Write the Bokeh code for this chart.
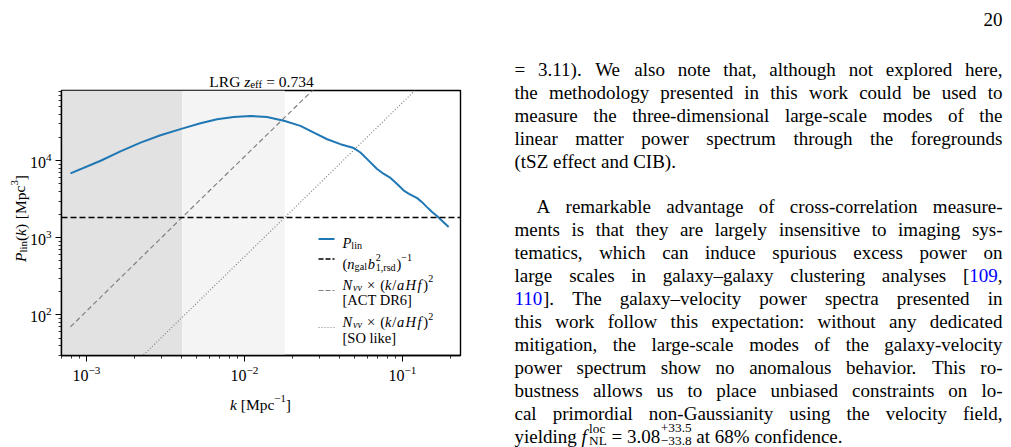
import os, glob, struct, math
from bokeh.plotting import figure
from bokeh.models import (Range1d, BoxAnnotation, Span, Arrow, ColumnDataSource, GridBox)
from bokeh.core.properties import value
from bokeh.embed import file_html
from bokeh.resources import INLINE

# ---------------- data ----------------
k_lin = [7.92e-4, 1.23e-3, 1.64e-3, 2.20e-3, 2.94e-3, 4.03e-3, 5.27e-3, 6.71e-3,
         8.55e-3, 1.09e-2, 1.39e-2, 1.80e-2, 2.26e-2, 2.75e-2, 3.34e-2, 4.05e-2,
         4.92e-2, 5.42e-2, 5.98e-2, 6.91e-2, 7.62e-2, 8.40e-2, 9.25e-2, 0.102,
         0.110, 0.124, 0.133, 0.143, 0.154, 0.166, 0.196]
p_lin = [6860, 10000, 13200, 17200, 21400, 26100, 30600, 34500,
         37000, 38100, 37000, 32800, 28300, 23200, 19000, 16400,
         14600, 12800, 10500, 7810, 6730, 5980, 5000, 4100,
         3720, 3270, 2900, 2500, 2160, 1900, 1380]
shot_noise_level = 1840.0            # (n_gal b^2)^-1
act_k = [7.92e-4, 4.03e-3, 4.0e-2]    # N_vv (k/aHf)^2, ACT DR6
act_p = [70.0, 1840.0, 1.8e5]
so_k = [7.92e-4, 1.8e-2, 2.3e-1]      # N_vv (k/aHf)^2, SO like
so_p = [3.6, 1840.0, 3.0e5]
dark_band_edge = 4.03e-3
light_band_edges = [4.03e-3, 1.8e-2]
x_limits = [6.95e-4, 0.233]
y_limits = [29.7, 8.15e4]

FONT = "Liberation Serif"
BLUE_LINE = "#1f77b4"
LINK = "#0000ff"

# ---------------- font metrics (for laying out rich text) ----------------
def parse_ttf(path):
    d = open(path, "rb").read()
    base = struct.unpack(">I", d[12:16])[0] if d[:4] == b"ttcf" else 0
    num = struct.unpack(">H", d[base + 4:base + 6])[0]
    tabs = {}
    for i in range(num):
        rec = base + 12 + 16 * i
        tabs[d[rec:rec + 4].decode("latin-1")] = struct.unpack(">I", d[rec + 8:rec + 12])[0]
    upem = struct.unpack(">H", d[tabs["head"] + 18:tabs["head"] + 20])[0]
    nhm = struct.unpack(">H", d[tabs["hhea"] + 34:tabs["hhea"] + 36])[0]
    hm = tabs["hmtx"]
    adv = struct.unpack(">%dH" % (2 * nhm), d[hm:hm + 4 * nhm])[0::2]
    c = tabs["cmap"]
    n = struct.unpack(">H", d[c + 2:c + 4])[0]
    sub = None
    for i in range(n):
        pid, eid, so = struct.unpack(">HHI", d[c + 4 + 8 * i:c + 12 + 8 * i])
        fmt = struct.unpack(">H", d[c + so:c + so + 2])[0]
        if fmt == 4 and (sub is None or (pid == 3 and eid == 1)):
            sub = c + so
    segx2 = struct.unpack(">H", d[sub + 6:sub + 8])[0]
    seg = segx2 // 2
    ends = struct.unpack(">%dH" % seg, d[sub + 14:sub + 14 + segx2])
    starts = struct.unpack(">%dH" % seg, d[sub + 16 + segx2:sub + 16 + 2 * segx2])
    deltas = struct.unpack(">%dh" % seg, d[sub + 16 + 2 * segx2:sub + 16 + 3 * segx2])
    ro_pos = sub + 16 + 3 * segx2
    ros = struct.unpack(">%dH" % seg, d[ro_pos:ro_pos + segx2])
    cache = {}

    def gid(cp):
        for i in range(seg):
            if ends[i] >= cp:
                if starts[i] > cp:
                    return 0
                if ros[i] == 0:
                    return (cp + deltas[i]) & 0xFFFF
                a = ro_pos + 2 * i + ros[i] + 2 * (cp - starts[i])
                g = struct.unpack(">H", d[a:a + 2])[0]
                return (g + deltas[i]) & 0xFFFF if g else 0
        return 0

    def width(ch):
        cp = ord(ch)
        if cp > 0xFFFF:
            return 0.5
        if cp not in cache:
            g = gid(cp)
            cache[cp] = adv[min(g, nhm - 1)] / upem
        return cache[cp]
    return width


def find_metrics(fname):
    bases = ["/usr/share/fonts", "/usr/local/share/fonts",
             os.path.expanduser("~/.fonts"), os.path.expanduser("~/.local/share/fonts")]
    for b in bases:
        for pth in glob.glob(os.path.join(b, "**", fname), recursive=True):
            try:
                return parse_ttf(pth)
            except Exception:
                pass
    return None


_FALLBACK = {" ": .25, ".": .25, ",": .25, ":": .278, "-": .333, "(": .333, ")": .333,
             "[": .333, "]": .333, "=": .564, "i": .278, "l": .278, "j": .278, "t": .278,
             "f": .333, "r": .333, "s": .389, "m": .778, "w": .722, "M": .889, "%": .833}
MET_R = find_metrics("LiberationSerif-Regular.ttf") or (lambda ch: _FALLBACK.get(ch, .5))
MET_I = find_metrics("LiberationSerif-Italic.ttf") or (lambda ch: _FALLBACK.get(ch, .5))


def text_w(t, italic, size):
    m = MET_I if italic else MET_R
    return sum(m(ch) for ch in t) * size


def R(t, col="#000000"):
    return ("run", t, False, 1.0, 0.0, col)


def I(t, col="#000000"):
    return ("run", t, True, 1.0, 0.0, col)


def SUB(t, it=False):
    return ("run", t, it, 0.7, -0.2, "#000000")


def SUP(t, it=False):
    return ("run", t, it, 0.7, 0.38, "#000000")


def GAP(em):
    return ("gap", em)


def STACK(sup, sub):
    return ("stack", sup, sub, "#000000")


def layout(runs, size):
    """returns list of (dx, dy_up, text, italic, font_size, color) and total advance"""
    out, x = [], 0.0
    for r in runs:
        if r[0] == "gap":
            x += r[1] * size
        elif r[0] == "stack":
            _, sp, sb, col = r
            fs = size * 0.7
            out.append((x, 0.42 * size, sp, False, fs, col))
            out.append((x, -0.26 * size, sb, False, fs, col))
            x += max(text_w(sp, False, fs), text_w(sb, False, fs))
        else:
            _, t, it, sc, dy, col = r
            fs = size * sc
            lead = len(t) - len(t.lstrip(" "))
            core = t.strip(" ")
            if core:
                out.append((x + text_w(t[:lead], it, fs), dy * size, core, it, fs, col))
            x += text_w(t, it, fs)
    return out, x


# ---------------- plot figure (axes, curves) ----------------
FL, FT, FR, FB = 61, 90, 460, 355   # frame edges in page pixels
PAGE_W, PAGE_H = 1011, 447

p = figure(x_axis_type="log", y_axis_type="log",
           x_range=Range1d(*x_limits), y_range=Range1d(*y_limits),
           frame_width=FR - FL, frame_height=FB - FT,
           min_border_left=FL, min_border_right=PAGE_W - FR,
           min_border_top=FT, min_border_bottom=PAGE_H - FB,
           output_backend="svg", toolbar_location=None)
p.background_fill_color = "white"
p.border_fill_color = "white"
p.xgrid.visible = False
p.ygrid.visible = False
p.outline_line_color = "black"
p.outline_line_width = 1.4
p.outline_line_alpha = 1.0
for ax in (p.xaxis[0], p.yaxis[0]):
    ax.axis_line_color = "black"
    ax.axis_line_width = 1.4
    ax.major_tick_in = 0
    ax.major_tick_out = 6
    ax.minor_tick_in = 0
    ax.minor_tick_out = 3
    ax.major_tick_line_color = "black"
    ax.minor_tick_line_color = "black"
    ax.major_tick_line_width = 1
    ax.minor_tick_line_width = 0.8
    ax.major_label_text_font = FONT
    ax.major_label_text_font_size = "16px"
    ax.major_label_text_color = "black"
    ax.major_label_standoff = 4

p.add_layout(BoxAnnotation(right=dark_band_edge, fill_color="#e2e2e2", fill_alpha=1.0,
                           line_color=None, level="underlay"))
p.add_layout(BoxAnnotation(left=light_band_edges[0], right=light_band_edges[1],
                           fill_color="#f4f4f4", fill_alpha=1.0, line_color=None, level="underlay"))

p.line(act_k, act_p, line_color="#808080", line_width=1.2, line_dash="5 3")
p.line(so_k, so_p, line_color="#808080", line_width=1.2, line_dash="1 2")
p.add_layout(Span(location=shot_noise_level, dimension="width", line_color="black",
                  line_width=1.5, line_dash="6 3"))
p.line(k_lin, p_lin, line_color=BLUE_LINE, line_width=2)


def add_key(x0, x1, y, color, width, dash):
    p.add_layout(Arrow(end=None, x_start=x0 - FL, y_start=FB - y, x_end=x1 - FL, y_end=FB - y,
                       start_units="screen", end_units="screen",
                       line_color=color, line_width=width, line_dash=dash))


# ---------------- overlay figure carrying all the page's text ----------------
t = figure(width=PAGE_W, height=PAGE_H, x_range=Range1d(0, PAGE_W), y_range=Range1d(PAGE_H, 0),
           x_axis_type=None, y_axis_type=None, output_backend="svg", toolbar_location=None,
           min_border=0)
t.outline_line_color = None
t.background_fill_color = None
t.border_fill_color = None
for fig in (p, t):
    try:
        fig.frame_align = False
    except Exception:
        pass

rows = dict(x=[], y=[], text=[], style=[], size=[], color=[], angle=[])


def emit(items, x0, base, angle=0.0):
    for dx, dy, tx, it, fs, col in items:
        if angle == 0.0:
            X, Y = x0 + dx, base - dy
        else:   # text reading upward; x0 = baseline x, base = starting y
            X, Y = x0 - dy, base - dx
        rows["x"].append(X)
        rows["y"].append(Y)
        rows["text"].append(tx)
        rows["style"].append("italic" if it else "normal")
        rows["size"].append("%.2fpx" % fs)
        rows["color"].append(col)
        rows["angle"].append(angle)


def rich(runs, size, px, py, anchor="left", angle=0.0):
    items, w = layout(runs, size)
    start = {"left": 0.0, "center": -w / 2, "right": -w}[anchor]
    if angle == 0.0:
        emit(items, px + start, py)
    else:
        emit(items, px, py - start, angle)


# title and axis labels
rich([R("LRG "), I("z"), SUB("eff"), GAP(0.25), R("= 0.734")], 15.5, 261, 80.5, anchor="center")
rich([I("k"), R(" [Mpc"), SUP("−1"), R("]")], 15.5, 260, 403.5, anchor="center")
rich([I("P"), SUB("lin"), R("("), I("k"), R(")"), GAP(0.3), R("[Mpc"), SUP("3"), R("]")], 15.5,
     19.5, 218, anchor="center", angle=math.pi / 2)

# legend
LEG = 14.5
KX0, KX1, TX = 318, 334, 342
add_key(KX0, KX1, 238.5, BLUE_LINE, 2, "solid")
rich([I("P"), SUB("lin")], LEG, TX, 242.5)
add_key(KX0, KX1, 258.5, "black", 1.5, "5 2")
rich([R("("), I("n"), SUB("gal"), GAP(0.05), I("b"), GAP(0.05), STACK("2", "1,rsd"),
      GAP(0.05), R(")"), SUP("−1")], LEG, TX, 263)
nvv = [I("N"), GAP(0.05), SUB("vv", it=True), GAP(0.35), R("×"), GAP(0.35), R("("), I("k"),
       GAP(0.05), R("/"), GAP(0.05), I("a"), GAP(0.08), I("H"), GAP(0.12), I("f"), GAP(0.12),
       R(")"), SUP("2")]
add_key(KX0, KX1, 290, "#808080", 1.2, "5 2")
rich(nvv, LEG, TX, 284)
rich([R("[ACT DR6]")], LEG, TX, 299.5)
add_key(KX0, KX1, 327, "#808080", 1.2, "1 2")
rich(nvv, LEG, TX, 321.5)
rich([R("[SO like]")], LEG, TX, 337)

# body text column
BODY = 19
ML, MR = 514, 1002


def words_of(s):
    return [[R(w)] for w in s.split(" ")]


def body_line(words, x0, x1, base, justify):
    lay = [layout(w, BODY) for w in words]
    total = sum(w for _, w in lay)
    gap = (x1 - x0 - total) / (len(words) - 1) if (justify and len(words) > 1) else text_w(" ", False, BODY)
    x = x0
    for items, w in lay:
        emit(items, x, base)
        x += w + gap


para1 = [
    "= 3.11). We also note that, although not explored here,",
    "the methodology presented in this work could be used to",
    "measure the three-dimensional large-scale modes of the",
    "linear matter power spectrum through the foregrounds",
    "(tSZ effect and CIB).",
]
para2 = [
    words_of("A remarkable advantage of cross-correlation measure-"),
    words_of("ments is that they are largely insensitive to imaging sys-"),
    words_of("tematics, which can induce spurious excess power on"),
    words_of("large scales in galaxy–galaxy clustering analyses") + [[R("["), R("109", LINK), R(",")]],
    [[R("110", LINK), R("].")]] + words_of("The galaxy–velocity power spectra presented in"),
    words_of("this work follow this expectation: without any dedicated"),
    words_of("mitigation, the large-scale modes of the galaxy-velocity"),
    words_of("power spectrum show no anomalous behavior. This ro-"),
    words_of("bustness allows us to place unbiased constraints on lo-"),
    words_of("cal primordial non-Gaussianity using the velocity field,"),
    [[R("yielding")], [I("f"), GAP(0.12), STACK("loc", "NL")], [R("=")],
     [R("3.08"), GAP(0.03), STACK("+33.5", "−33.8")], [R("at")], [R("68%")], [R("confidence.")]],
]
LS = 23.0
for i, s in enumerate(para1):
    body_line(words_of(s), ML, MR, 69 + LS * i, justify=(i < len(para1) - 1))
for i, ws in enumerate(para2):
    body_line(ws, ML + (22 if i == 0 else 0), MR, 205.5 + LS * i, justify=(i < len(para2) - 1))

# page number
rich([R("20")], BODY, MR, 18.5, anchor="right")

t.text(x="x", y="y", text="text", angle="angle", source=ColumnDataSource(rows),
       text_font=value(FONT), text_font_style="style", text_font_size="size",
       text_color="color", text_baseline="alphabetic", text_align="left")

page = GridBox(children=[(p, 0, 0), (t, 0, 0)])
open("out.html", "w").write(file_html(page, INLINE))
